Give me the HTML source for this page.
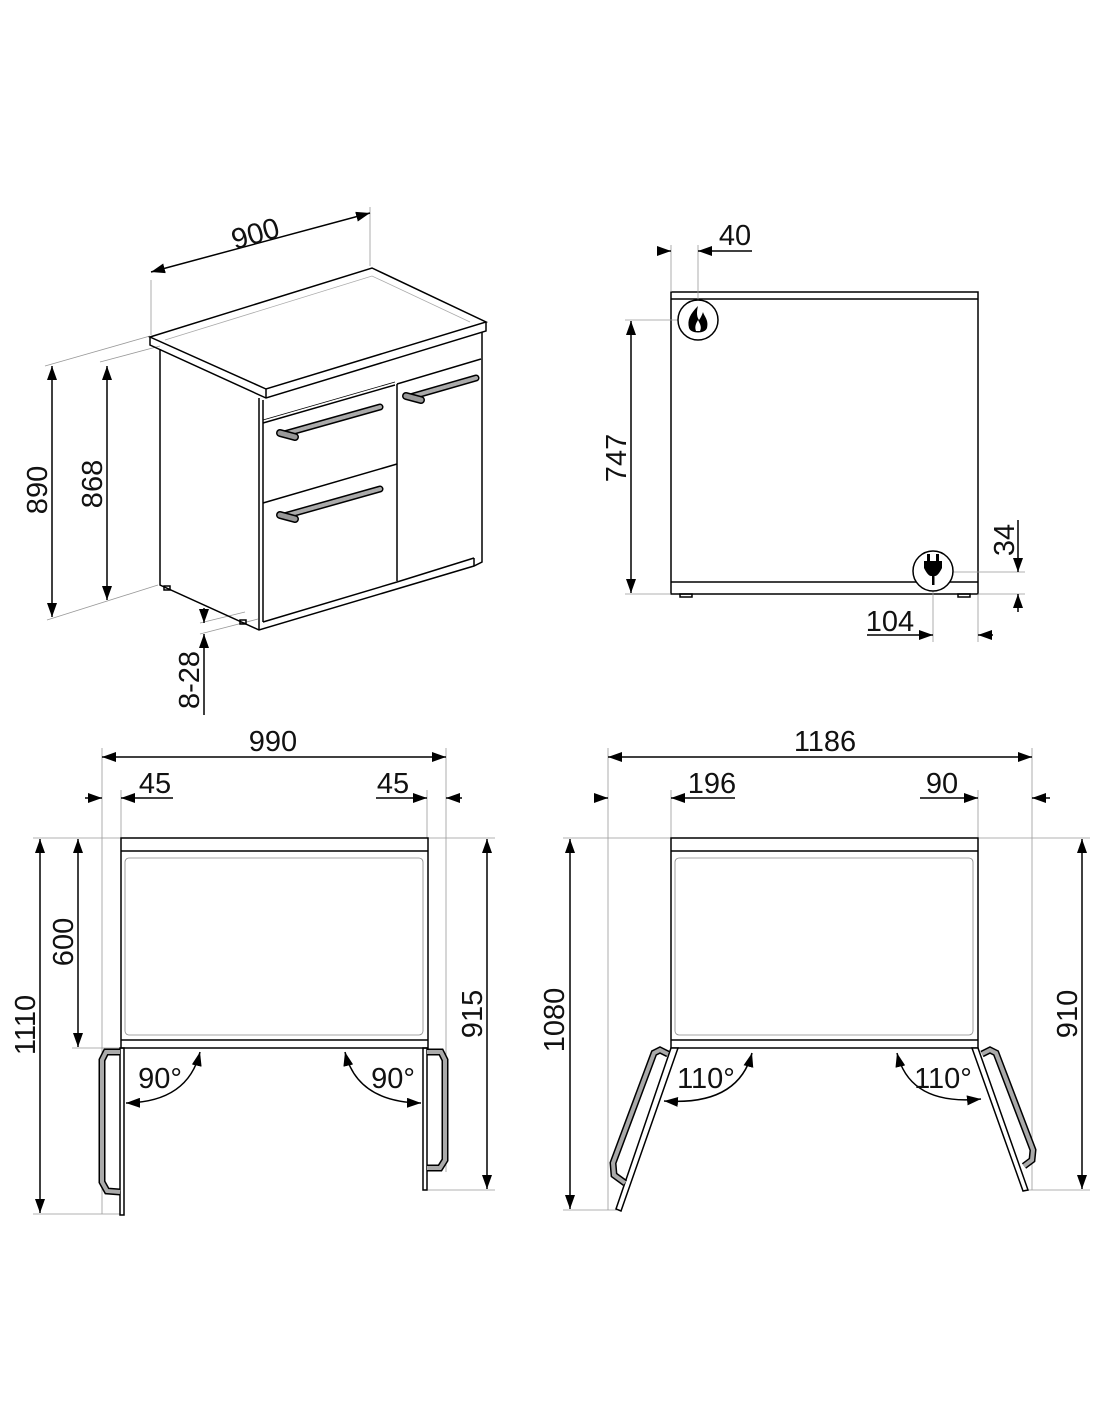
<!DOCTYPE html>
<html><head><meta charset="utf-8"><style>
html,body{margin:0;padding:0;background:#fff}
svg{display:block}
text{font-family:"Liberation Sans",sans-serif;font-size:29px;fill:#111}
</style></head><body>
<svg width="1100" height="1422" viewBox="0 0 1100 1422" xmlns="http://www.w3.org/2000/svg">
<defs>
<marker id="a" viewBox="0 0 14 10" refX="14" refY="5" markerWidth="14" markerHeight="10" markerUnits="userSpaceOnUse" orient="auto-start-reverse"><path d="M0,0 L14,5 L0,10 z" fill="#000"/></marker>
</defs>
<g fill="none" stroke="#000" stroke-width="1.5">
<!-- ISO VIEW -->
<g stroke="#999" stroke-width="0.8">
<line x1="151" y1="280" x2="151" y2="335"/>
<line x1="370" y1="207" x2="370" y2="266"/>
<line x1="45" y1="366" x2="150" y2="336"/>
<line x1="100" y1="362" x2="160" y2="346"/>
<line x1="47" y1="620" x2="158" y2="585"/>
<line x1="200" y1="623" x2="245" y2="612"/>
<line x1="200" y1="634" x2="258" y2="619"/>
</g>
<line x1="151" y1="272" x2="370" y2="213" marker-start="url(#a)" marker-end="url(#a)"/>
<line x1="52" y1="366" x2="52" y2="617" marker-start="url(#a)" marker-end="url(#a)"/>
<line x1="107" y1="366" x2="107" y2="600" marker-start="url(#a)" marker-end="url(#a)"/>
<line x1="204" y1="608" x2="204" y2="623" marker-end="url(#a)"/>
<line x1="204" y1="715" x2="204" y2="634" marker-end="url(#a)"/>
<!-- slab -->
<path d="M150,337 L372,268 L486,322 L266,389 Z" fill="#fff"/>
<path d="M150,337 L150,345 L266,398 L486,331 L486,322"/>
<line x1="266" y1="389" x2="266" y2="398"/>
<path d="M165,340 L372,276 L470,322" stroke="#aaa" stroke-width="0.8"/>
<!-- body -->
<path d="M160,349 L160,585 L259,630 L474,566 L482,562 L482,332"/>
<line x1="259" y1="398" x2="259" y2="630"/>
<line x1="263" y1="400" x2="263" y2="622"/>
<path d="M263,423 L395,385" />
<path d="M263,420 L395,382" stroke-width="0.8"/>
<line x1="397" y1="384" x2="397" y2="581"/>
<path d="M263,503 L397,464"/>
<path d="M263,622 L397,582 L474,558"/>
<path d="M397,384 L481,359"/>
<line x1="474" y1="558" x2="474" y2="566"/>
<rect x="164" y="586" width="6" height="4"/>
<rect x="240" y="620" width="6" height="4"/>
<!-- handles -->
<g stroke-linecap="round">
<line x1="284" y1="434" x2="380" y2="407" stroke="#000" stroke-width="7"/>
<line x1="284" y1="434" x2="380" y2="407" stroke="#aaa" stroke-width="4"/>
<line x1="284" y1="516" x2="380" y2="489" stroke="#000" stroke-width="7"/>
<line x1="284" y1="516" x2="380" y2="489" stroke="#aaa" stroke-width="4"/>
<line x1="410" y1="397" x2="476" y2="378" stroke="#000" stroke-width="7"/>
<line x1="410" y1="397" x2="476" y2="378" stroke="#aaa" stroke-width="4"/>
<line x1="280" y1="433" x2="295" y2="437" stroke="#000" stroke-width="8"/>
<line x1="280" y1="433" x2="295" y2="437" stroke="#999" stroke-width="5"/>
<line x1="280" y1="515" x2="295" y2="519" stroke="#000" stroke-width="8"/>
<line x1="280" y1="515" x2="295" y2="519" stroke="#999" stroke-width="5"/>
<line x1="406" y1="396" x2="421" y2="400" stroke="#000" stroke-width="8"/>
<line x1="406" y1="396" x2="421" y2="400" stroke="#999" stroke-width="5"/>
</g>

<!-- SIDE VIEW -->
<rect x="671" y="292" width="307" height="302"/>
<line x1="671" y1="299" x2="978" y2="299"/>
<line x1="671" y1="582" x2="978" y2="582"/>
<rect x="680" y="594" width="12" height="3"/>
<rect x="958" y="594" width="12" height="3"/>
<g stroke="#999" stroke-width="0.8">
<line x1="671" y1="245" x2="671" y2="292"/>
<line x1="698" y1="245" x2="698" y2="300"/>
<line x1="625" y1="320" x2="678" y2="320"/>
<line x1="625" y1="594" x2="671" y2="594"/>
<line x1="953" y1="572" x2="1025" y2="572"/>
<line x1="978" y1="594" x2="1025" y2="594"/>
<line x1="933" y1="591" x2="933" y2="642"/>
<line x1="978" y1="594" x2="978" y2="642"/>
</g>
<line x1="657" y1="251" x2="671" y2="251" marker-end="url(#a)"/>
<line x1="752" y1="251" x2="698" y2="251" marker-end="url(#a)"/>
<line x1="631" y1="321" x2="631" y2="593" marker-start="url(#a)" marker-end="url(#a)"/>
<line x1="1018" y1="520" x2="1018" y2="572" marker-end="url(#a)"/>
<line x1="1018" y1="612" x2="1018" y2="594" marker-end="url(#a)"/>
<line x1="867" y1="635" x2="933" y2="635" marker-end="url(#a)"/>
<line x1="993" y1="635" x2="978" y2="635" marker-end="url(#a)"/>
<circle cx="698" cy="320" r="20" fill="#fff"/>
<path d="M698,306 C690,314 687,320 689,328 C691,334 705,334 707,328 C709,320 704,316 703,312 C701,318 699,320 699,320 C696,316 697,310 698,306 Z M696,331 C694,326 697,322 698,320 C700,324 702,327 700,331 Z" fill="#000" stroke="none" fill-rule="evenodd"/>
<circle cx="933" cy="571" r="20" fill="#fff"/>
<path d="M924,561 h18 v7 q-4,8 -7,8 h-4 q-3,0 -7,-8 z" fill="#000" stroke="none"/>
<rect x="927" y="554" width="3" height="8" fill="#000" stroke="none"/>
<rect x="936" y="554" width="3" height="8" fill="#000" stroke="none"/>
<rect x="932" y="575" width="2.5" height="10" fill="#000" stroke="none"/>

<!-- BOTTOM LEFT -->
<g stroke="#999" stroke-width="0.8">
<line x1="102" y1="748" x2="102" y2="1214"/>
<line x1="446" y1="748" x2="446" y2="1172"/>
<line x1="121" y1="790" x2="121" y2="838"/>
<line x1="427" y1="790" x2="427" y2="838"/>
<line x1="33" y1="838" x2="121" y2="838"/>
<line x1="33" y1="1214" x2="120" y2="1214"/>
<line x1="72" y1="1048" x2="121" y2="1048"/>
<line x1="428" y1="838" x2="495" y2="838"/>
<line x1="428" y1="1190" x2="495" y2="1190"/>
</g>
<line x1="102" y1="757" x2="446" y2="757" marker-start="url(#a)" marker-end="url(#a)"/>
<line x1="85" y1="798" x2="102" y2="798" marker-end="url(#a)"/>
<line x1="173" y1="798" x2="121" y2="798" marker-end="url(#a)"/>
<line x1="376" y1="798" x2="427" y2="798" marker-end="url(#a)"/>
<line x1="462" y1="798" x2="446" y2="798" marker-end="url(#a)"/>
<line x1="40" y1="839" x2="40" y2="1213" marker-start="url(#a)" marker-end="url(#a)"/>
<line x1="78" y1="839" x2="78" y2="1047" marker-start="url(#a)" marker-end="url(#a)"/>
<line x1="487" y1="839" x2="487" y2="1189" marker-start="url(#a)" marker-end="url(#a)"/>
<rect x="121" y="838" width="307" height="210"/>
<line x1="121" y1="851" x2="428" y2="851"/>
<line x1="121" y1="1040" x2="428" y2="1040"/>
<rect x="125" y="858" width="298" height="177" rx="4" stroke="#888" stroke-width="0.8"/>
<rect x="120" y="1048" width="4" height="167"/>
<rect x="423" y="1048" width="4" height="142"/>
<path d="M120,1052 L106,1052 L102,1060 L102,1182 L107,1191 L120,1192" stroke-width="7"/>
<path d="M120,1052 L106,1052 L102,1060 L102,1182 L107,1191 L120,1192" stroke="#aaa" stroke-width="4"/>
<path d="M427,1052 L441,1052 L445,1060 L445,1160 L440,1168 L427,1168" stroke-width="7"/>
<path d="M427,1052 L441,1052 L445,1060 L445,1160 L440,1168 L427,1168" stroke="#aaa" stroke-width="4"/>
<path d="M126,1103 Q188,1102 200,1052" marker-start="url(#a)" marker-end="url(#a)"/>
<path d="M345,1052 Q357,1102 421,1103" marker-start="url(#a)" marker-end="url(#a)"/>

<!-- BOTTOM RIGHT -->
<g stroke="#999" stroke-width="0.8">
<line x1="608" y1="748" x2="608" y2="1210"/>
<line x1="1032" y1="748" x2="1032" y2="1190"/>
<line x1="671" y1="790" x2="671" y2="838"/>
<line x1="978" y1="790" x2="978" y2="838"/>
<line x1="563" y1="838" x2="671" y2="838"/>
<line x1="563" y1="1210" x2="617" y2="1210"/>
<line x1="979" y1="838" x2="1090" y2="838"/>
<line x1="1025" y1="1190" x2="1090" y2="1190"/>
</g>
<line x1="608" y1="757" x2="1032" y2="757" marker-start="url(#a)" marker-end="url(#a)"/>
<line x1="594" y1="798" x2="608" y2="798" marker-end="url(#a)"/>
<line x1="735" y1="798" x2="671" y2="798" marker-end="url(#a)"/>
<line x1="920" y1="798" x2="978" y2="798" marker-end="url(#a)"/>
<line x1="1050" y1="798" x2="1032" y2="798" marker-end="url(#a)"/>
<line x1="570" y1="839" x2="570" y2="1209" marker-start="url(#a)" marker-end="url(#a)"/>
<line x1="1082" y1="839" x2="1082" y2="1189" marker-start="url(#a)" marker-end="url(#a)"/>
<rect x="671" y="838" width="307" height="210"/>
<line x1="671" y1="851" x2="978" y2="851"/>
<line x1="671" y1="1040" x2="978" y2="1040"/>
<rect x="675" y="858" width="298" height="177" rx="4" stroke="#888" stroke-width="0.8"/>
<path d="M671,1048 L678,1048 L621,1211 L616,1209 Z" fill="#fff"/>
<path d="M972,1048 L978,1048 L1028,1190 L1023,1191 Z" fill="#fff"/>
<path d="M668,1054 L660,1050 L654,1053 L613,1163 L614,1175 L625,1183" stroke-width="7"/>
<path d="M668,1054 L660,1050 L654,1053 L613,1163 L614,1175 L625,1183" stroke="#aaa" stroke-width="4"/>
<path d="M982,1054 L990,1050 L996,1053 L1033,1150 L1032,1160 L1024,1166" stroke-width="7"/>
<path d="M982,1054 L990,1050 L996,1053 L1033,1150 L1032,1160 L1024,1166" stroke="#aaa" stroke-width="4"/>
<path d="M664,1101 Q738,1106 752,1053" marker-start="url(#a)" marker-end="url(#a)"/>
<path d="M897,1053 Q910,1106 981,1099" marker-start="url(#a)" marker-end="url(#a)"/>
</g>

<!-- TEXT -->
<text x="258" y="243" text-anchor="middle" transform="rotate(-16 258 243)">900</text>
<text transform="translate(47,490) rotate(-90)" text-anchor="middle">890</text>
<text transform="translate(102,484) rotate(-90)" text-anchor="middle">868</text>
<text transform="translate(199,680) rotate(-90)" text-anchor="middle">8-28</text>
<text x="735" y="245" text-anchor="middle">40</text>
<text transform="translate(626,458) rotate(-90)" text-anchor="middle">747</text>
<text transform="translate(1014,540) rotate(-90)" text-anchor="middle">34</text>
<text x="890" y="631" text-anchor="middle">104</text>
<text x="273" y="751" text-anchor="middle">990</text>
<text x="155" y="793" text-anchor="middle">45</text>
<text x="393" y="793" text-anchor="middle">45</text>
<text transform="translate(35,1025) rotate(-90)" text-anchor="middle">1110</text>
<text transform="translate(73,942) rotate(-90)" text-anchor="middle">600</text>
<text transform="translate(482,1014) rotate(-90)" text-anchor="middle">915</text>
<text x="160" y="1088" text-anchor="middle">90°</text>
<text x="393" y="1088" text-anchor="middle">90°</text>
<text x="825" y="751" text-anchor="middle">1186</text>
<text x="712" y="793" text-anchor="middle">196</text>
<text x="942" y="793" text-anchor="middle">90</text>
<text transform="translate(564,1020) rotate(-90)" text-anchor="middle">1080</text>
<text transform="translate(1077,1014) rotate(-90)" text-anchor="middle">910</text>
<text x="706" y="1088" text-anchor="middle">110°</text>
<text x="943" y="1088" text-anchor="middle">110°</text>
</svg>
</body></html>
